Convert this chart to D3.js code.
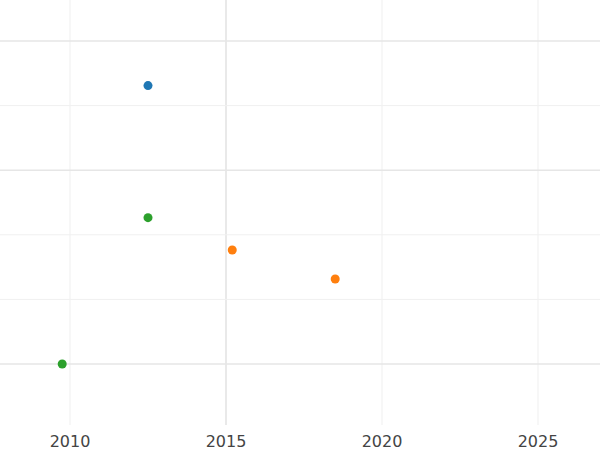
<!DOCTYPE html>
<html><head><meta charset="utf-8">
<script src="https://cdn.jsdelivr.net/npm/d3@7"></script>
<style>body{margin:0;background:#fff}</style>
</head><body><svg id="c" width="600" height="450"></svg>
<script>
const xs = [2012.5, 2012.5, 2015.2, 2018.5, 2009.75];
const ys = [4.31, 2.265, 1.765, 1.315, 0.0];
const colors = ["#1f77b4", "#2ca02c", "#ff7f0e", "#ff7f0e", "#2ca02c"];
const xTicks = [2010, 2015, 2020, 2025];
const yGrid = [0, 1, 2, 3, 4, 5];

const svg = d3.select("#c");
const x = d3.scaleLinear().domain([2010, 2015]).range([70, 226]);
const y = d3.scaleLinear().domain([0, 5]).range([364, 41]);
const majorY = [0, 3, 5];

svg.selectAll("line.v").data(xTicks).enter().append("line")
  .attr("x1", d => x(d)).attr("x2", d => x(d)).attr("y1", 0).attr("y2", 425)
  .attr("stroke", d => d === 2015 ? "#e2e2e2" : "#efefef").attr("stroke-width", d => d === 2015 ? 1.5 : 1);
svg.selectAll("line.h").data(yGrid).enter().append("line")
  .attr("x1", 0).attr("x2", 600).attr("y1", d => y(d)).attr("y2", d => y(d))
  .attr("stroke", d => majorY.includes(d) ? "#e6e6e6" : "#f0f0f0").attr("stroke-width", d => majorY.includes(d) ? 1.5 : 1);

svg.selectAll("text.t").data(xTicks).enter().append("text")
  .attr("x", d => x(d)).attr("y", 447).attr("text-anchor", "middle")
  .attr("font-family", "DejaVu Sans").attr("font-size", 16).attr("fill", "#444")
  .text(d => d);

svg.selectAll("circle").data(xs).enter().append("circle")
  .attr("cx", d => x(d)).attr("cy", (d, i) => y(ys[i])).attr("r", 4.5)
  .attr("fill", (d, i) => colors[i]);
</script></body></html>
